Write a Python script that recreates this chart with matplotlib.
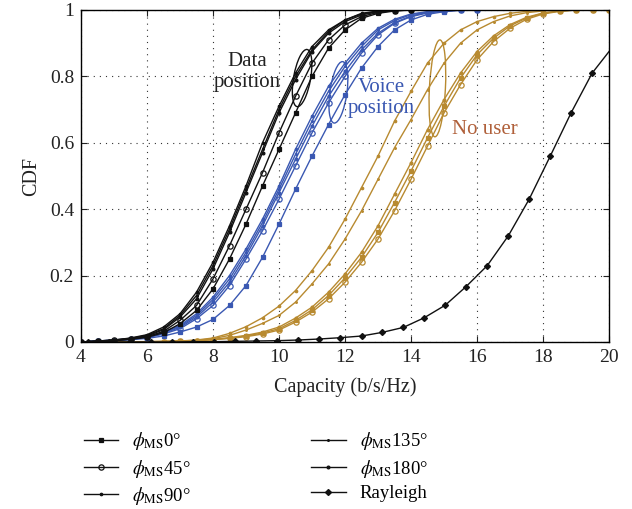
import matplotlib
matplotlib.use("Agg")
import matplotlib.pyplot as plt
import matplotlib.transforms as mtransforms
from matplotlib.patches import Ellipse
from matplotlib.lines import Line2D

plt.rcParams['font.family'] = ['Liberation Serif', 'DejaVu Serif']
plt.rcParams['mathtext.fontset'] = 'stix'

# ---- data ----
x_black = [4, 4.5, 5, 5.5, 6, 6.5, 7, 7.5, 8, 8.5, 9, 9.5, 10, 10.5, 11, 11.5, 12, 12.5, 13, 13.5, 14]
b0   = [0, 0.002, 0.004, 0.008, 0.014, 0.028, 0.055, 0.095, 0.16, 0.25, 0.355, 0.47, 0.58, 0.69, 0.80, 0.885, 0.94, 0.975, 0.99, 0.997, 1]
b45  = [0, 0.002, 0.005, 0.009, 0.016, 0.032, 0.065, 0.11, 0.19, 0.29, 0.40, 0.51, 0.63, 0.74, 0.84, 0.91, 0.955, 0.98, 0.993, 0.998, 1]
b90  = [0, 0.003, 0.006, 0.012, 0.022, 0.045, 0.085, 0.15, 0.24, 0.35, 0.47, 0.60, 0.71, 0.81, 0.89, 0.94, 0.97, 0.99, 0.997, 1, 1]
b135 = [0, 0.003, 0.006, 0.011, 0.020, 0.040, 0.080, 0.14, 0.23, 0.34, 0.46, 0.58, 0.70, 0.80, 0.88, 0.935, 0.97, 0.988, 0.996, 1, 1]
b180 = [0, 0.002, 0.005, 0.010, 0.018, 0.037, 0.075, 0.13, 0.22, 0.33, 0.45, 0.57, 0.69, 0.79, 0.875, 0.93, 0.965, 0.985, 0.995, 0.999, 1]

x_blue = [4, 4.5, 5, 5.5, 6, 6.5, 7, 7.5, 8, 8.5, 9, 9.5, 10, 10.5, 11, 11.5, 12, 12.5, 13, 13.5, 14, 14.5, 15, 15.5, 16]
u0   = [0, 0.002, 0.004, 0.007, 0.011, 0.018, 0.03, 0.045, 0.068, 0.11, 0.17, 0.255, 0.355, 0.46, 0.56, 0.655, 0.745, 0.825, 0.89, 0.94, 0.97, 0.987, 0.995, 0.999, 1]
u45  = [0, 0.002, 0.004, 0.008, 0.013, 0.024, 0.04, 0.07, 0.11, 0.17, 0.25, 0.335, 0.43, 0.53, 0.63, 0.72, 0.80, 0.87, 0.925, 0.96, 0.98, 0.991, 0.997, 1, 1]
u90  = [0, 0.003, 0.006, 0.01, 0.016, 0.03, 0.05, 0.085, 0.135, 0.2, 0.28, 0.37, 0.47, 0.58, 0.68, 0.77, 0.84, 0.9, 0.945, 0.972, 0.988, 0.995, 0.998, 1, 1]
u135 = [0, 0.003, 0.005, 0.009, 0.015, 0.028, 0.047, 0.08, 0.128, 0.19, 0.27, 0.36, 0.46, 0.565, 0.665, 0.755, 0.83, 0.89, 0.94, 0.968, 0.986, 0.994, 0.998, 1, 1]
u180 = [0, 0.003, 0.005, 0.009, 0.014, 0.026, 0.044, 0.075, 0.12, 0.18, 0.26, 0.35, 0.45, 0.55, 0.65, 0.74, 0.815, 0.88, 0.93, 0.962, 0.982, 0.993, 0.997, 1, 1]

x_orange = [4, 4.5, 5, 5.5, 6, 6.5, 7, 7.5, 8, 8.5, 9, 9.5, 10, 10.5, 11, 11.5, 12, 12.5, 13, 13.5,
            14, 14.5, 15, 15.5, 16, 16.5, 17, 17.5, 18, 18.5, 19, 19.5, 20]
o0   = [0, 0, 0, 0, 0.001, 0.001, 0.002, 0.004, 0.007, 0.012, 0.018, 0.027, 0.04, 0.065, 0.097, 0.14, 0.193, 0.255, 0.33, 0.42,
        0.515, 0.615, 0.71, 0.795, 0.865, 0.915, 0.952, 0.976, 0.99, 0.997, 1, 1, 1]
o45  = [0, 0, 0, 0, 0.001, 0.001, 0.002, 0.004, 0.007, 0.011, 0.016, 0.024, 0.036, 0.06, 0.09, 0.13, 0.18, 0.24, 0.31, 0.395,
        0.49, 0.59, 0.69, 0.775, 0.85, 0.905, 0.945, 0.972, 0.988, 0.996, 1, 1, 1]
o90  = [0, 0, 0, 0.001, 0.001, 0.002, 0.003, 0.006, 0.012, 0.026, 0.046, 0.073, 0.108, 0.155, 0.215, 0.285, 0.37, 0.465, 0.56, 0.665,
        0.755, 0.84, 0.9, 0.94, 0.965, 0.98, 0.99, 0.996, 0.999, 1, 1, 1, 1]
o135 = [0, 0, 0, 0.001, 0.001, 0.002, 0.003, 0.005, 0.01, 0.02, 0.036, 0.056, 0.08, 0.12, 0.175, 0.235, 0.31, 0.395, 0.49, 0.585,
        0.67, 0.76, 0.84, 0.9, 0.94, 0.965, 0.982, 0.992, 0.997, 1, 1, 1, 1]
o180 = [0, 0, 0, 0, 0.001, 0.001, 0.002, 0.004, 0.008, 0.013, 0.02, 0.03, 0.045, 0.072, 0.105, 0.15, 0.205, 0.27, 0.35, 0.445,
        0.54, 0.64, 0.73, 0.81, 0.875, 0.922, 0.956, 0.978, 0.991, 0.997, 1, 1, 1]

ray_x = [3.58, 4.22, 4.86, 5.49, 6.13, 6.77, 7.40, 8.04, 8.68, 9.31, 9.95, 10.59, 11.22, 11.86, 12.5, 13.13, 13.77,
         14.40, 15.04, 15.67, 16.31, 16.95, 17.58, 18.22, 18.85, 19.49, 20.12]
ray_y = [0, 0, 0, 0, 0, 0, 0.001, 0.001, 0.002, 0.003, 0.004, 0.006, 0.009, 0.013, 0.018, 0.029, 0.044,
         0.073, 0.111, 0.167, 0.23, 0.32, 0.43, 0.56, 0.69, 0.81, 0.89]

labels = [r'$\phi_{\mathrm{MS}}$0°', r'$\phi_{\mathrm{MS}}$45°', r'$\phi_{\mathrm{MS}}$90°',
          r'$\phi_{\mathrm{MS}}$135°', r'$\phi_{\mathrm{MS}}$180°', 'Rayleigh']

BLACK = '#111111'
BLUE = '#3a58b2'
ORANGE = '#b88a30'
NOUSER = '#b0603a'
TXT = '#222222'

styles = [
    dict(marker='s', ms=3.2, mfc=None),
    dict(marker='o', ms=3.8, mfc='none'),
    dict(marker='.', ms=3.5, mfc=None),
    dict(marker='.', ms=2.5, mfc=None),
    dict(marker='.', ms=4.0, mfc=None),
]

fig = plt.figure(figsize=(6.32, 5.09), dpi=100)
ax = fig.add_axes([81/632, 1 - 342/509, (609-81)/632, (342-10)/509])

groups = [
    (x_orange, [o0, o45, o90, o135, o180], ORANGE),
    (x_blue, [u0, u45, u90, u135, u180], BLUE),
    (x_black, [b0, b45, b90, b135, b180], BLACK),
]
for xs, series, col in groups:
    for ys, st in zip(series, styles):
        kw = dict(color=col, lw=1.0, marker=st['marker'], ms=st['ms'], mec=col, mew=0.9)
        kw['mfc'] = st['mfc'] if st['mfc'] is not None else col
        ax.plot(xs, ys, **kw)

ax.plot(ray_x, ray_y, color=BLACK, lw=1.0, marker='D', ms=3.0, mfc=BLACK, mec=BLACK)

ax.set_xlim(4, 20)
ax.set_ylim(0, 1)
ax.set_xticks([4, 6, 8, 10, 12, 14, 16, 18, 20])
ax.set_yticks([0, 0.2, 0.4, 0.6, 0.8, 1])
ax.set_yticklabels(['0', '0.2', '0.4', '0.6', '0.8', '1'])
ax.grid(True, color='#333333', linestyle=(0, (1, 4.5)), linewidth=0.8)
ax.tick_params(direction='in', top=True, right=True, length=4, labelsize=14, colors=TXT, pad=5)
for sp in ax.spines.values():
    sp.set_linewidth(1.0)
ax.set_xlabel('Capacity (b/s/Hz)', fontsize=14.5, color=TXT, labelpad=8)
ax.set_ylabel('CDF', fontsize=14.5, color=TXT, labelpad=6)

# annotations
def pix_ellipse(xd, yd, w, h, ang, col):
    tr = mtransforms.Affine2D() + mtransforms.ScaledTranslation(xd, yd, ax.transData)
    e = Ellipse((0, 0), w, h, angle=ang, fill=False, edgecolor=col, lw=1.0, transform=tr)
    ax.add_patch(e)

pix_ellipse(10.70, 0.795, 17, 58, -10, BLACK)
pix_ellipse(11.80, 0.752, 17, 62, -8, BLUE)
pix_ellipse(14.80, 0.764, 16, 97, -3, ORANGE)

ax.text(9.05, 0.813, 'Data\nposition', ha='center', va='center', fontsize=15, color=TXT, linespacing=1.1)
ax.text(13.09, 0.735, 'Voice\nposition', ha='center', va='center', fontsize=15, color=BLUE, linespacing=1.1)
ax.text(16.24, 0.64, 'No user', ha='center', va='center', fontsize=15, color=NOUSER)

# legend
handles = []
for st in styles:
    handles.append(Line2D([], [], color=BLACK, lw=1.0, marker=st['marker'], ms=st['ms'],
                          mfc=(st['mfc'] if st['mfc'] is not None else BLACK), mec=BLACK, mew=0.9))
handles.append(Line2D([], [], color=BLACK, lw=1.0, marker='D', ms=3.0, mfc=BLACK, mec=BLACK))
fig.legend(handles, labels, ncol=2, loc='upper left', bbox_to_anchor=(76/632, 1 - 423/509),
           frameon=False, fontsize=13.5, handlelength=1.85, handletextpad=0.75, columnspacing=6.4,
           labelspacing=0.28, borderaxespad=0)

fig.savefig('out.png', dpi=100)
